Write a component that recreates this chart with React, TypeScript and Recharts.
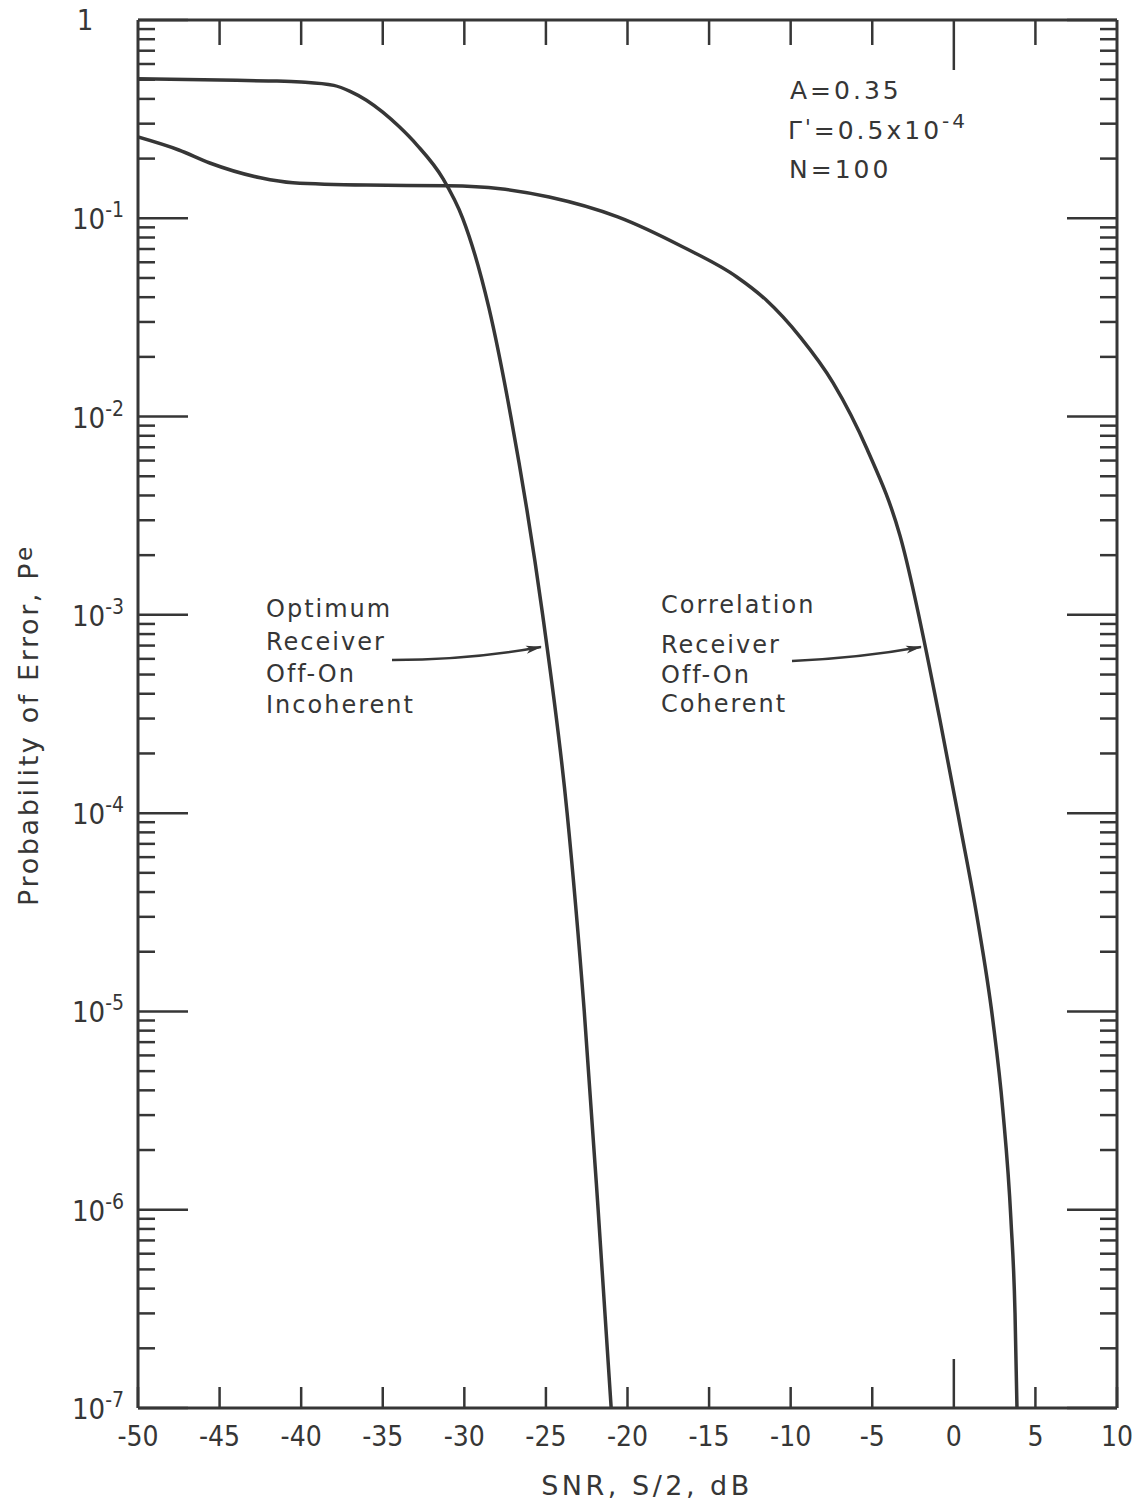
import { LineChart, Line, XAxis, YAxis } from 'recharts';

// SNR (dB) / probability of error
const optimumSnr = [-50, -45, -42, -40, -38, -37, -36, -35, -34, -32.9, -31.3, -30.1, -28.5, -27.15, -25.2, -23.7, -22.65, -21.8, -21.0];
const optimumPe = [0.505, 0.498, 0.493, 0.487, 0.468, 0.437, 0.394, 0.343, 0.29, 0.234, 0.158, 0.1, 0.0355, 0.01, 1e-3, 1e-4, 1e-5, 1e-6, 1e-7];

const correlationSnr = [-50, -47.5, -45.6, -42.5, -40.5, -36, -31, -27.8, -24.8, -20.6, -16.6, -13.3, -11.5, -9.4, -7.4, -5.3, -3.3, -0.85, 0.38, 1.42, 2.4, 3.0, 3.5, 3.75, 3.87];
const correlationPe = [0.257, 0.221, 0.19, 0.16, 0.151, 0.147, 0.146, 0.141, 0.128, 0.1016, 0.0716, 0.0506, 0.0387, 0.0251, 0.0148, 0.0068, 2.51e-3, 2.95e-4, 8.7e-5, 3.0e-5, 8.9e-6, 3.2e-6, 8.9e-7, 3.0e-7, 1e-7];

const xTicks = [-50, -45, -40, -35, -30, -25, -20, -15, -10, -5, 0, 5, 10];
const decades = [1, 1e-1, 1e-2, 1e-3, 1e-4, 1e-5, 1e-6, 1e-7];
const minorSteps = [2, 3, 4, 5, 6, 7, 8, 9];

const optimumData = optimumSnr.map((snr, i) => ({ snr, pe: optimumPe[i] }));
const correlationData = correlationSnr.map((snr, i) => ({ snr, pe: correlationPe[i] }));
const yTicks = decades.flatMap((d) => (d < 1 ? [d, ...minorSteps.map((m) => m * d)] : [d]));

const INK = '#363636';
const FONT = '"DejaVu Sans Condensed", "DejaVu Sans", sans-serif';
const LABEL_FONT = '"DejaVu Sans", sans-serif';

const isDecade = (v: number) => Math.abs(Math.log10(v) - Math.round(Math.log10(v))) < 1e-6;

function LeftTick({ x, y, payload }: any) {
  const v = payload.value;
  const major = isDecade(v);
  const e = Math.round(Math.log10(v));
  return (
    <g>
      <line x1={x} x2={x + (major ? 50 : 17)} y1={y} y2={y} stroke={INK} strokeWidth={2.5} />
      {major && e === 0 && (
        <text x={x - 53} y={y + 10} textAnchor="middle" fontFamily={FONT} fontSize={29} fill={INK}>1</text>
      )}
      {major && e !== 0 && (
        <text x={x - 66} y={y + 11} fontFamily={FONT} fontSize={29} fill={INK}>
          10<tspan dy={-12} fontSize={21}>-{-e}</tspan>
        </text>
      )}
    </g>
  );
}

function RightTick({ x, y, payload }: any) {
  const major = isDecade(payload.value);
  return <line x1={x} x2={x - (major ? 50 : 17)} y1={y} y2={y} stroke={INK} strokeWidth={2.5} />;
}

function BottomTick({ x, y, payload }: any) {
  const v = payload.value;
  return (
    <g>
      <line x1={x} x2={x} y1={y} y2={y - (v === 0 ? 49 : 21)} stroke={INK} strokeWidth={2.5} />
      <text x={x} y={y + 38} textAnchor="middle" fontFamily={FONT} fontSize={28} fill={INK}>{v}</text>
    </g>
  );
}

function TopTick({ x, y, payload }: any) {
  const v = payload.value;
  return <line x1={x} x2={x} y1={y} y2={y + (v === 0 ? 50 : 25)} stroke={INK} strokeWidth={2.5} />;
}

export default function App() {
  const text = { fontFamily: LABEL_FONT, fill: INK } as const;
  return (
    <div style={{ position: 'absolute', left: 0, top: 0, width: 1133, height: 1504, background: '#fff' }}>
      <LineChart width={1133} height={1504} margin={{ top: 0, right: 0, bottom: 0, left: 0 }}>
        <XAxis
          xAxisId="bottom"
          dataKey="snr"
          type="number"
          domain={[-50, 10]}
          ticks={xTicks}
          interval={0}
          height={96}
          tickSize={0}
          tickMargin={0}
          axisLine={{ stroke: INK, strokeWidth: 3 }}
          tickLine={false}
          tick={<BottomTick />}
          allowDataOverflow
        />
        <XAxis
          xAxisId="top"
          orientation="top"
          dataKey="snr"
          type="number"
          domain={[-50, 10]}
          ticks={xTicks.slice(1, -1)}
          interval={0}
          height={20}
          tickSize={0}
          tickMargin={0}
          axisLine={{ stroke: INK, strokeWidth: 3 }}
          tickLine={false}
          tick={<TopTick />}
          allowDataOverflow
        />
        <YAxis
          yAxisId="left"
          dataKey="pe"
          type="number"
          scale="log"
          domain={[1e-7, 1]}
          ticks={yTicks}
          interval={0}
          width={138}
          tickSize={0}
          tickMargin={0}
          axisLine={{ stroke: INK, strokeWidth: 3 }}
          tickLine={false}
          tick={<LeftTick />}
          allowDataOverflow
        />
        <YAxis
          yAxisId="right"
          orientation="right"
          dataKey="pe"
          type="number"
          scale="log"
          domain={[1e-7, 1]}
          ticks={yTicks}
          interval={0}
          width={16}
          tickSize={0}
          tickMargin={0}
          axisLine={{ stroke: INK, strokeWidth: 3 }}
          tickLine={false}
          tick={<RightTick />}
          allowDataOverflow
        />
        <Line xAxisId="bottom" yAxisId="left" data={optimumData} dataKey="pe" type="monotone" stroke={INK} strokeWidth={3.5} dot={false} isAnimationActive={false} />
        <Line xAxisId="bottom" yAxisId="left" data={correlationData} dataKey="pe" type="monotone" stroke={INK} strokeWidth={3.5} dot={false} isAnimationActive={false} />
        <Line xAxisId="top" yAxisId="right" data={correlationData} dataKey="pe" type="monotone" stroke="none" dot={false} activeDot={false} isAnimationActive={false} />
      </LineChart>

      <svg width={1133} height={1504} style={{ position: 'absolute', left: 0, top: 0, pointerEvents: 'none' }}>
        <defs>
          <marker id="arrow" markerWidth="16" markerHeight="10" refX="15" refY="5" orient="auto" markerUnits="userSpaceOnUse">
            <path d="M0,1 L16,5 L0,9 L4,5 Z" fill={INK} />
          </marker>
        </defs>

        <g {...text} fontSize={25} letterSpacing={3}>
          <text x={790} y={99}>A=0.35</text>
          <text x={788} y={139}>
            Γ<tspan fontSize={21} dy={-4}>'</tspan><tspan dy={4}>=0.5x10</tspan><tspan dy={-11} fontSize={20}>-4</tspan>
          </text>
          <text x={789} y={178}>N=100</text>
        </g>

        <g {...text} fontSize={24} letterSpacing={2}>
          <text x={266} y={617}>Optimum</text>
          <text x={266} y={650}>Receiver</text>
          <text x={266} y={682}>Off-On</text>
          <text x={266} y={713}>Incoherent</text>

          <text x={661} y={613}>Correlation</text>
          <text x={661} y={653}>Receiver</text>
          <text x={661} y={683}>Off-On</text>
          <text x={661} y={712}>Coherent</text>
        </g>

        <path d="M392,660 Q470,660 541,647" fill="none" stroke={INK} strokeWidth={2.5} markerEnd="url(#arrow)" />
        <path d="M792,661 Q860,658 921,647" fill="none" stroke={INK} strokeWidth={2.5} markerEnd="url(#arrow)" />

        <text x={647} y={1495} textAnchor="middle" fontFamily={LABEL_FONT} fontSize={27} letterSpacing={3.5} fill={INK}>SNR, S/2, dB</text>
        <text transform="translate(38,725) rotate(-90)" textAnchor="middle" fontFamily={LABEL_FONT} fontSize={27} letterSpacing={2.6} fill={INK}>
          Probability of Error, P<tspan dy={-6} fontSize={23}>e</tspan>
        </text>
      </svg>
    </div>
  );
}
